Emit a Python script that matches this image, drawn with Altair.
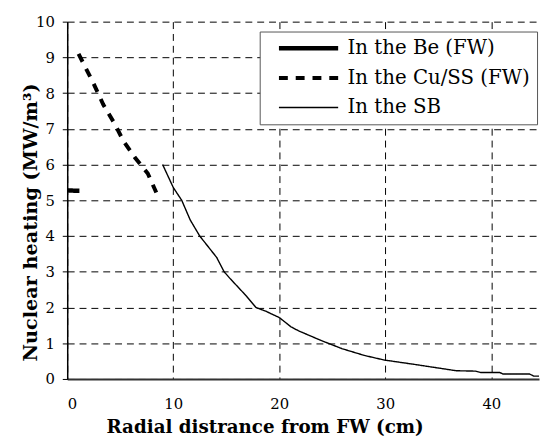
import altair as alt
import pandas as pd

be_x = [0.0, 0.6, 1.15]
be_y = [5.28, 5.27, 5.27]

cu_x = [1.07, 2.5, 3.4, 4.5, 5.3, 6.4, 7.6, 8.4]
cu_y = [9.1, 8.26, 7.68, 7.13, 6.66, 6.19, 5.75, 5.22]

sb_x = [9.0, 10.0, 10.8, 11.6, 12.5, 14.1, 14.8, 15.3, 16.9, 17.8, 18.7, 20.0,
        21.1, 21.8, 24.0, 25.9, 28.0, 29.9, 32.7, 36.7, 38.5, 39.0, 40.8, 41.1,
        43.6, 44.0, 44.5]
sb_y = [6.0, 5.36, 5.0, 4.45, 4.0, 3.4, 3.0, 2.83, 2.32, 2.0, 1.9, 1.72,
        1.46, 1.35, 1.07, 0.85, 0.66, 0.53, 0.41, 0.23, 0.22, 0.18, 0.18, 0.14,
        0.14, 0.08, 0.08]

series = ["In the Be (FW)", "In the Cu/SS (FW)", "In the SB"]

rows = []
for name, xs, ys in zip(series, [be_x, cu_x, sb_x], [be_y, cu_y, sb_y]):
    for x, y in zip(xs, ys):
        rows.append({"series": name, "x": x, "y": y})
df = pd.DataFrame(rows)

serif = "DejaVu Serif"

chart = alt.Chart(df).mark_line(color="black", clip=True).encode(
    x=alt.X("x:Q", scale=alt.Scale(domain=[0, 44.5], nice=False, zero=False),
            axis=alt.Axis(values=[0, 10, 20, 30, 40], ticks=False,
                          title="Radial distrance from FW (cm)",
                          titleX=200, titleY=54, titleBaseline="alphabetic",
                          titleFont=serif, titleFontSize=18.5, titleFontWeight="bold",
                          labelFont=serif, labelFontSize=15, labelPadding=18,
                          labelColor="black", titleColor="black",
                          domainColor="#333", domainWidth=2,
                          grid=True, gridColor="black", gridDash=[7, 5],
                          gridWidth=1, gridOpacity=1)),
    y=alt.Y("y:Q", scale=alt.Scale(domain=[0, 10], nice=False),
            axis=alt.Axis(values=list(range(0, 11)), tickSize=5, tickColor="black",
                          title="Nuclear heating (MW/m³)",
                          titleX=-31, titleY=203, titleAngle=-90,
                          titleBaseline="alphabetic", titleAlign="center",
                          titleFont=serif, titleFontSize=19.5, titleFontWeight="bold",
                          labelFont=serif, labelFontSize=15, labelPadding=8,
                          labelColor="black", titleColor="black",
                          domainColor="black", domainWidth=1.5,
                          grid=True, gridColor="black", gridDash=[7, 5],
                          gridWidth=1, gridOpacity=1)),
    strokeDash=alt.StrokeDash("series:N",
                              scale=alt.Scale(domain=series,
                                              range=[[1, 0], [9, 8], [1, 0]]),
                              legend=alt.Legend(title=None)),
    strokeWidth=alt.StrokeWidth("series:N",
                                scale=alt.Scale(type="ordinal", domain=series,
                                                range=[4.5, 4, 1.4]),
                                legend=alt.Legend(title=None)),
).properties(
    width=478, height=362,
    autosize=alt.AutoSizeParams(type="none"),
    padding={"left": 60, "top": 11, "right": 2, "bottom": 59},
).configure_view(stroke=None).configure_legend(
    orient="none", legendX=195, legendY=10,
    strokeColor="#555", fillColor="white", padding=7,
    symbolType="stroke", symbolSize=3600, symbolStrokeColor="black",
    labelFont=serif, labelFontSize=20, labelColor="black", labelOffset=7,
    labelLimit=400, rowPadding=10, symbolOffset=10, clipHeight=20,
)

chart.save("out.html", embed_options={"renderer": "svg", "actions": False})
